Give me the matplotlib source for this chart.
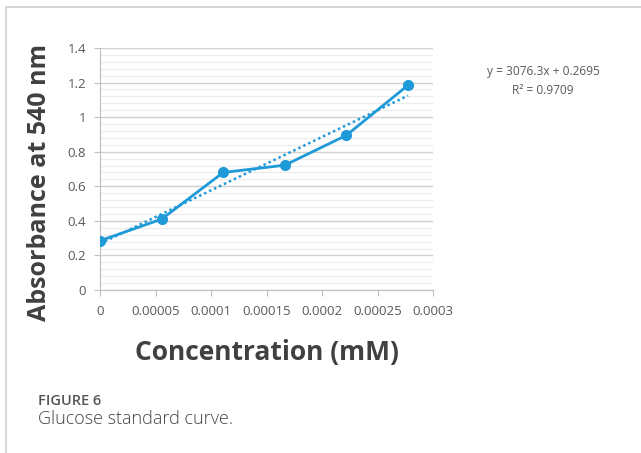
import numpy as np
import matplotlib.pyplot as plt
from matplotlib.ticker import MultipleLocator, FuncFormatter

# glucose standard curve data
conc = [0, 0.0000555, 0.000111, 0.0001665, 0.000222, 0.0002775]
absorb = [0.285, 0.41, 0.68, 0.722, 0.895, 1.185]
eq_text = "y = 3076.3x + 0.2695"
r2_text = "R\u00b2 = 0.9709"
x_ticks = [0, 0.00005, 0.0001, 0.00015, 0.0002, 0.00025, 0.0003]
x_tick_labels = ["0", "0.00005", "0.0001", "0.00015", "0.0002", "0.00025", "0.0003"]

blue = "#1f9ad9"
grey = "#595959"

plt.rcParams['font.family'] = ['Open Sans', 'DejaVu Sans']

fig = plt.figure(figsize=(6.41, 4.53), dpi=100)
ax = fig.add_axes([100/641, 1-290/453, 333/641, 242/453])

# linear trendline through the points
k, b = np.polyfit(conc, absorb, 1)
xs = np.array([conc[0], conc[-1]])
ax.plot(xs, k*xs + b, linestyle=(0, (1, 1.2)), color=blue, lw=1.8, zorder=3)
ax.plot(conc, absorb, color=blue, lw=2, marker='o', ms=7, zorder=4)

ax.set_xlim(0, 0.0003)
ax.set_ylim(0, 1.4)
ax.set_xticks(x_ticks)
ax.set_xticklabels(x_tick_labels)
ax.yaxis.set_major_locator(MultipleLocator(0.2))
ax.yaxis.set_minor_locator(MultipleLocator(0.04))
ax.yaxis.set_major_formatter(FuncFormatter(lambda v, p: f"{v:g}"))
ax.grid(axis='y', which='major', color='#d0d0d0', lw=1)
ax.grid(axis='y', which='minor', color='#ececec', lw=0.8)
ax.set_axisbelow(True)

for s in ['top', 'right']:
    ax.spines[s].set_visible(False)
for s in ['left', 'bottom']:
    ax.spines[s].set_color('#bfbfbf')
ax.tick_params(axis='both', which='major', colors='#bfbfbf', labelcolor=grey,
               labelsize=9.5, length=4)
ax.tick_params(axis='y', which='minor', length=0)
ax.tick_params(axis='x', pad=7)
ax.tick_params(axis='y', pad=6)

ax.set_xlabel("Concentration (mM)", fontsize=19, fontweight='bold', color='#404040', labelpad=15)
ax.set_ylabel("Absorbance at 540 nm", fontsize=18, fontweight='bold', color='#404040')
ax.yaxis.set_label_coords(-0.145, 0.445)

fig.text(543/641, 1-72/453, eq_text, ha='center', va='center', fontsize=8.6, color=grey)
fig.text(543/641, 1-90/453, r2_text, ha='center', va='center', fontsize=8.6, color=grey)

# caption
fig.text(38/641, 1-401/453, "FIGURE 6", fontsize=10.5, color='#555555', va='center', fontweight='semibold')
fig.text(38/641, 1-419/453, "Glucose standard curve.", fontsize=13, color='#444444', va='center', fontweight='light')

# frame lines around the panel
fig.add_artist(plt.Line2D([6/641, 6/641], [0, 1-7/453], color='#d0d0d0', lw=1.2))
fig.add_artist(plt.Line2D([6/641, 1], [1-7/453, 1-7/453], color='#d0d0d0', lw=1.2))

fig.savefig("out.png", dpi=100)
